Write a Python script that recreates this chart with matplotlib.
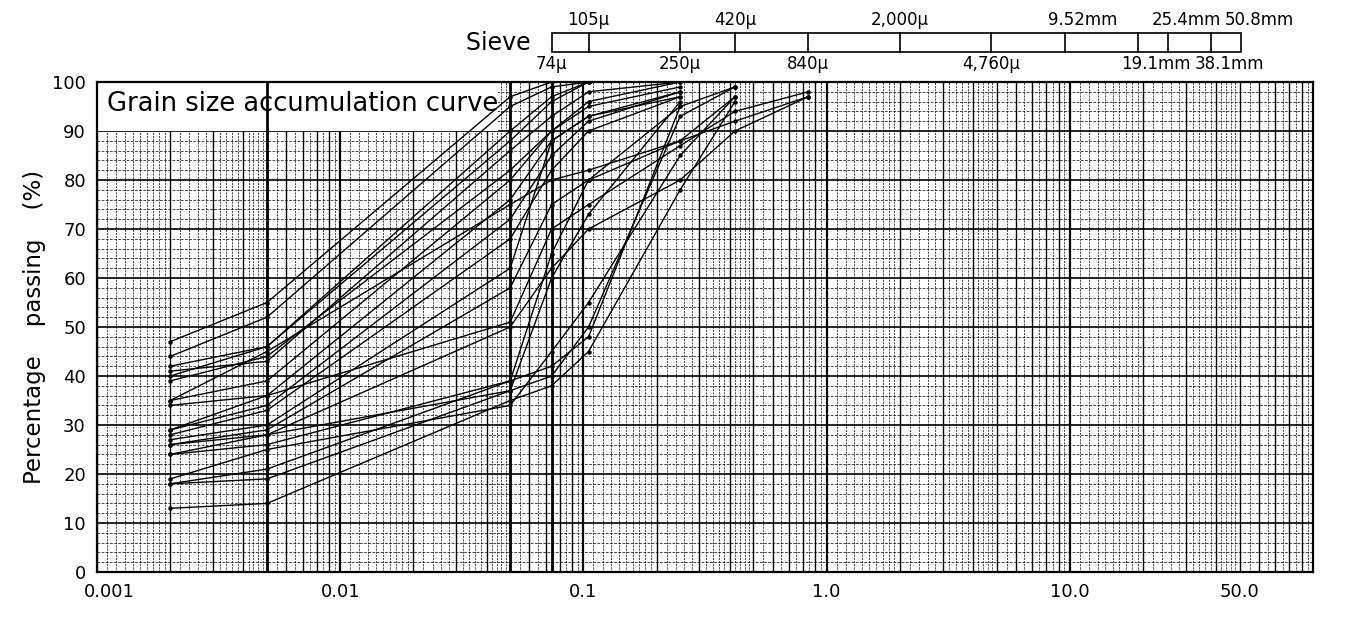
import numpy as np
import matplotlib.pyplot as plt
from matplotlib.patches import Rectangle
from matplotlib.transforms import blended_transform_factory, ScaledTranslation

# grain sizes (mm) at which passing percentages were measured
SIZES = [0.002, 0.005, 0.05, 0.074, 0.105, 0.25, 0.42, 0.84]

# percentage passing per sample (None = not measured / already 100)
PASSING = [
    [47, 55, 97, 100, None, None, None, None],
    [44, 52, 95, 99, 100, None, None, None],
    [42, 46, 90, 97, 100, None, None, None],
    [40, 46, 88, 96, 100, None, None, None],
    [41, 43, 86, 93, 98, 100, None, None],
    [39, 44, 82, 90, 96, 100, None, None],
    [35, 39, 80, 90, 95, 99, None, None],
    [34, 36, 76, 88, 93, 98, None, None],
    [29, 34, 72, 85, 92, 98, None, None],
    [28, 33, 68, 82, 90, 97, None, None],
    [27, 30, 62, 88, 93, 97, None, None],
    [26, 29, 58, 75, 80, 88, 97, None],
    [29, 36, 51, 70, 75, 87, 94, 98],
    [24, 28, 50, 62, 70, 80, 90, 97],
    [18, 21, 39, 42, 48, 95, 99, None],
    [18, 19, 37, 40, 50, 93, 99, None],
    [13, 14, 35, 38, 45, 78, 96, None],
    [26, 28, 37, 60, 73, 96, None, None],
    [24, 26, 39, 65, 80, 95, None, None],
    [19, 25, 34, 45, 55, 85, 97, None],
    [35, 45, 75, 80, 82, 88, 92, 97],
]

YTICKS = [0, 10, 20, 30, 40, 50, 60, 70, 80, 90, 100]
YTICK_LABELS = ["0", "10", "20", "30", "40", "50", "60", "70", "80", "90", "100"]
XTICKS = [0.001, 0.01, 0.1, 1.0, 10.0, 50.0]
XTICK_LABELS = ["0.001", "0.01", "0.1", "1.0", "10.0", "50.0"]

# sieve scale at the top (mm), with labels above / below the bar
SIEVE_SIZES = [0.074, 0.105, 0.25, 0.42, 0.84, 2.0, 4.76, 9.52, 19.1, 25.4, 38.1, 50.8]
SIEVE_LABELS = ["74\u03bc", "105\u03bc", "250\u03bc", "420\u03bc", "840\u03bc", "2,000\u03bc",
                "4,760\u03bc", "9.52mm", "19.1mm", "25.4mm", "38.1mm", "50.8mm"]
SIEVE_ON_TOP = [False, True, False, True, False, True, False, True, False, True, False, True]

# thick reference lines of the graph paper
THICK_X = [0.005, 0.05, 0.074]

plt.rcParams['font.family'] = ['DejaVu Sans']

fig = plt.figure(figsize=(13.59, 6.17), dpi=100)
ax = fig.add_axes([97 / 1359, 45 / 617, 1216 / 1359, 490 / 617])
ax.set_xscale('log')
ax.set_xlim(0.001, 100)
ax.set_ylim(0, 100)

# --- graph paper grid ---
dash = (0, (3, 1.5))
for dec in [0.001, 0.01, 0.1, 1.0, 10.0]:
    subs = list(np.arange(1.1, 2.0, 0.1)) + list(np.arange(2.2, 5.0, 0.2)) + list(np.arange(5.5, 10.0, 0.5))
    for m in subs:
        if abs(m - round(m)) > 1e-6:
            ax.axvline(dec * m, color='black', lw=0.5, ls=dash, zorder=1)
    for m in range(2, 10):
        ax.axvline(dec * m, color='black', lw=1.0, zorder=1)
    ax.axvline(dec, color='black', lw=1.6, zorder=1)

for y in range(0, 101, 2):
    if y % 10 == 0:
        ax.axhline(y, color='black', lw=1.2, zorder=1)
    else:
        ax.axhline(y, color='black', lw=0.5, ls=(0, (4, 2)), zorder=1)

# white title area
ax.add_patch(Rectangle((0, 0.9), 0.33, 0.1, transform=ax.transAxes,
                       facecolor='white', edgecolor='none', zorder=2))

for x in THICK_X:
    ax.axvline(x, color='black', lw=2.0, zorder=3)

# --- sample curves ---
for row in PASSING:
    xs = [s for s, p in zip(SIZES, row) if p is not None]
    ys = [p for p in row if p is not None]
    ax.plot(xs, ys, color='black', lw=1.0, marker='o', ms=2.2, zorder=4)

ax.text(0.008, 0.955, "Grain size accumulation curve", transform=ax.transAxes,
        fontsize=18.5, va='center', ha='left', zorder=5)

# --- axes ---
ax.set_yticks(YTICKS)
ax.set_yticklabels(YTICK_LABELS, fontsize=13)
ax.set_xticks(XTICKS)
ax.set_xticklabels(XTICK_LABELS, fontsize=13)
ax.minorticks_off()
ax.tick_params(length=0, pad=8)
first = ax.get_xticklabels()[0]
first.set_transform(first.get_transform() + ScaledTranslation(12 / 100, 0, fig.dpi_scale_trans))
for sp in ax.spines.values():
    sp.set_linewidth(1.6)

ax.set_ylabel("Percentage    passing    (%)", fontsize=16.5, labelpad=4)

# --- sieve bar ---
tr = blended_transform_factory(ax.transData, ax.transAxes)
y0, y1 = 1.061, 1.1
ax.add_patch(Rectangle((SIEVE_SIZES[0], y0), SIEVE_SIZES[-1] - SIEVE_SIZES[0], y1 - y0,
                       transform=tr, facecolor='white', edgecolor='black', lw=1.2, clip_on=False))
for s in SIEVE_SIZES[1:-1]:
    ax.plot([s, s], [y0, y1], transform=tr, color='black', lw=1.2, clip_on=False)
for s, lab, top in zip(SIEVE_SIZES, SIEVE_LABELS, SIEVE_ON_TOP):
    shift = 18 if lab.endswith('mm') else 0
    t = tr + ScaledTranslation(shift / 100, 0, fig.dpi_scale_trans)
    ax.text(s, 1.127 if top else 1.036, lab, transform=t, ha='center', va='center',
            fontsize=12, clip_on=False)
ax.text(SIEVE_SIZES[0], (y0 + y1) / 2, "Sieve  ",
        transform=tr + ScaledTranslation(-6 / 100, 0, fig.dpi_scale_trans),
        ha='right', va='center', fontsize=17, clip_on=False)

fig.savefig('out.png', dpi=100)
